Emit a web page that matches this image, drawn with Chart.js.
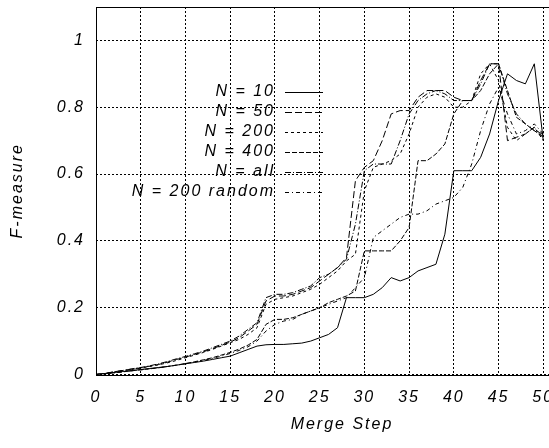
<!DOCTYPE html>
<html>
<head>
<meta charset="utf-8">
<script src="https://cdn.jsdelivr.net/npm/chart.js@4.4.0/dist/chart.umd.min.js"></script>
<style>
  html, body { margin: 0; padding: 0; background: #fff; overflow: hidden; }
  #wrap { width: 600px; height: 448px; }
</style>
</head>
<body>
<div id="wrap"><canvas id="myChart" width="600" height="448"></canvas></div>
<script>
var steps = [0,1,2,3,4,5,6,7,8,9,10,11,12,13,14,15,16,17,18,19,20,21,22,23,24,25,
             26,27,28,29,30,31,32,33,34,35,36,37,38,39,40,41,42,43,44,45,46,47,48,49,50];

var n10 = [0,0.003,0.006,0.009,0.012,0.015,0.018,0.021,0.024,0.028,0.032,0.036,0.04,0.045,0.05,0.055,
           0.065,0.075,0.085,0.089,0.09,0.09,0.092,0.094,0.1,0.11,0.12,0.14,0.23,0.23,0.23,0.24,
           0.26,0.29,0.28,0.29,0.31,0.32,0.33,0.42,0.61,0.61,0.61,0.65,0.72,0.82,0.9,0.88,0.87,0.93,0.7];
var n50 = [0,0.003,0.008,0.012,0.016,0.02,0.025,0.03,0.037,0.045,0.052,0.06,0.068,0.077,0.087,0.097,
           0.11,0.13,0.15,0.22,0.235,0.235,0.24,0.25,0.26,0.28,0.3,0.32,0.35,0.58,0.62,0.64,
           0.7,0.78,0.79,0.79,0.83,0.85,0.85,0.85,0.83,0.82,0.82,0.88,0.93,0.93,0.7,0.71,0.72,0.74,0.71];
var n200 = [0,0.003,0.007,0.011,0.015,0.019,0.024,0.029,0.035,0.042,0.05,0.058,0.066,0.075,0.085,0.095,
            0.105,0.12,0.14,0.21,0.225,0.23,0.235,0.245,0.255,0.27,0.29,0.31,0.34,0.36,0.55,0.62,
            0.63,0.64,0.66,0.72,0.8,0.83,0.84,0.83,0.8,0.8,0.82,0.9,0.93,0.88,0.74,0.7,0.72,0.74,0.7];
var n400 = [0,0.002,0.005,0.008,0.011,0.014,0.017,0.02,0.024,0.028,0.033,0.038,0.044,0.05,0.058,0.066,
            0.076,0.088,0.105,0.15,0.165,0.165,0.17,0.18,0.19,0.2,0.215,0.225,0.235,0.25,0.37,0.37,
            0.37,0.37,0.4,0.44,0.64,0.64,0.66,0.69,0.78,0.82,0.82,0.85,0.9,0.93,0.85,0.77,0.75,0.73,0.71];
var nAll = [0,0.003,0.008,0.012,0.017,0.021,0.026,0.032,0.039,0.047,0.054,0.062,0.07,0.08,0.09,0.1,
            0.115,0.135,0.155,0.23,0.24,0.24,0.245,0.255,0.265,0.29,0.3,0.32,0.345,0.45,0.61,0.63,
            0.63,0.63,0.7,0.78,0.82,0.84,0.85,0.84,0.82,0.82,0.82,0.87,0.93,0.93,0.84,0.78,0.75,0.73,0.72];
var n200r = [0,0.002,0.005,0.008,0.011,0.014,0.017,0.02,0.024,0.028,0.032,0.037,0.042,0.048,0.055,0.063,
             0.072,0.083,0.1,0.13,0.15,0.16,0.165,0.18,0.19,0.2,0.21,0.22,0.23,0.26,0.29,0.41,
             0.43,0.45,0.47,0.48,0.48,0.49,0.51,0.52,0.53,0.56,0.63,0.73,0.81,0.86,0.78,0.72,0.73,0.75,0.72];

var seriesNames = ['N = 10', 'N = 50', 'N = 200', 'N = 400', 'N = all', 'N = 200 random'];
var seriesDash = [[], [7, 3], [3, 3], [5, 2], [6, 2, 1, 2], [4, 3, 1, 3]];
var xTicks = [0, 5, 10, 15, 20, 25, 30, 35, 40, 45, 50];
var yTicks = [0, 0.2, 0.4, 0.6, 0.8, 1];

var allSeries = [n10, n50, n200, n400, nAll, n200r];
var font = { family: '"Liberation Sans", Arial, sans-serif', size: 16, style: 'italic' };

function toPoints(vals) {
  return steps.map(function (s, i) { return { x: s, y: vals[i] }; });
}

// frame, spaced text and the in-plot legend
var paperLook = {
  id: 'paperLook',
  beforeLayout: function (chart) { chart.ctx.letterSpacing = '2px'; },
  beforeDraw: function (chart) { chart.ctx.letterSpacing = '2px'; },
  beforeDatasetsDraw: function (chart) {
    var a = chart.chartArea, ctx = chart.ctx;
    ctx.save();
    ctx.strokeStyle = '#000';
    ctx.lineWidth = 1;
    ctx.setLineDash([]);
    ctx.strokeRect(Math.round(a.left) + 0.5, Math.round(a.top) + 0.5,
                   Math.round(a.right - a.left), Math.round(a.bottom - a.top));
    ctx.restore();
  },
  afterDatasetsDraw: function (chart) {
    var ctx = chart.ctx;
    ctx.save();
    ctx.letterSpacing = '2px';
    ctx.font = 'italic 16px "Liberation Sans", Arial, sans-serif';
    ctx.fillStyle = '#000';
    ctx.strokeStyle = '#000';
    ctx.lineWidth = 1;
    ctx.textAlign = 'right';
    ctx.textBaseline = 'middle';
    chart.data.datasets.forEach(function (ds, i) {
      var y = 92 + i * 20;
      ctx.fillText(ds.label, 275, y);
      ctx.setLineDash(ds.borderDash);
      ctx.beginPath();
      ctx.moveTo(285, y + 0.5);
      ctx.lineTo(323, y + 0.5);
      ctx.stroke();
    });
    ctx.restore();
  }
};

var ctx = document.getElementById('myChart').getContext('2d');
var myChart = new Chart(ctx, {
  type: 'line',
  data: {
    datasets: allSeries.map(function (vals, i) {
      return {
        label: seriesNames[i],
        data: toPoints(vals),
        borderColor: '#000',
        borderWidth: 1,
        borderDash: seriesDash[i],
        pointRadius: 0,
        tension: 0,
        fill: false
      };
    })
  },
  options: {
    responsive: false,
    animation: false,
    devicePixelRatio: 1,
    layout: { padding: { top: 7, right: 12, left: 0, bottom: 0 } },
    plugins: { legend: { display: false }, tooltip: { enabled: false } },
    scales: {
      x: {
        type: 'linear',
        min: 0,
        max: 55,
        afterBuildTicks: function (scale) {
          scale.ticks = xTicks.map(function (v) { return { value: v }; });
        },
        afterFit: function (scale) {
          scale.height = 73.5;
          scale.paddingLeft = 0;
          scale.paddingRight = 0;
        },
        grid: { color: '#000', lineWidth: 1, drawTicks: false },
        border: { display: false, dash: [2, 2] },
        ticks: { color: '#000', font: font, padding: 13, maxRotation: 0 },
        title: { display: true, text: 'Merge Step', color: '#000', font: font, padding: { top: 0, bottom: 14 } }
      },
      y: {
        min: 0,
        max: 1.1,
        afterBuildTicks: function (scale) {
          scale.ticks = yTicks.map(function (v) { return { value: v }; });
        },
        afterFit: function (scale) {
          scale.width = 96;
          scale.paddingTop = 0;
          scale.paddingBottom = 0;
        },
        grid: { color: '#000', lineWidth: 1, drawTicks: false },
        border: { display: false, dash: [2, 2] },
        ticks: {
          color: '#000', font: font, padding: 11,
          callback: function (v) { return v === 0 ? '0' : v === 1 ? '1' : v.toFixed(1); }
        },
        title: { display: true, text: 'F-measure', color: '#000', font: font, padding: { top: 8, bottom: 0 } }
      }
    }
  },
  plugins: [paperLook]
});
</script>
</body>
</html>
